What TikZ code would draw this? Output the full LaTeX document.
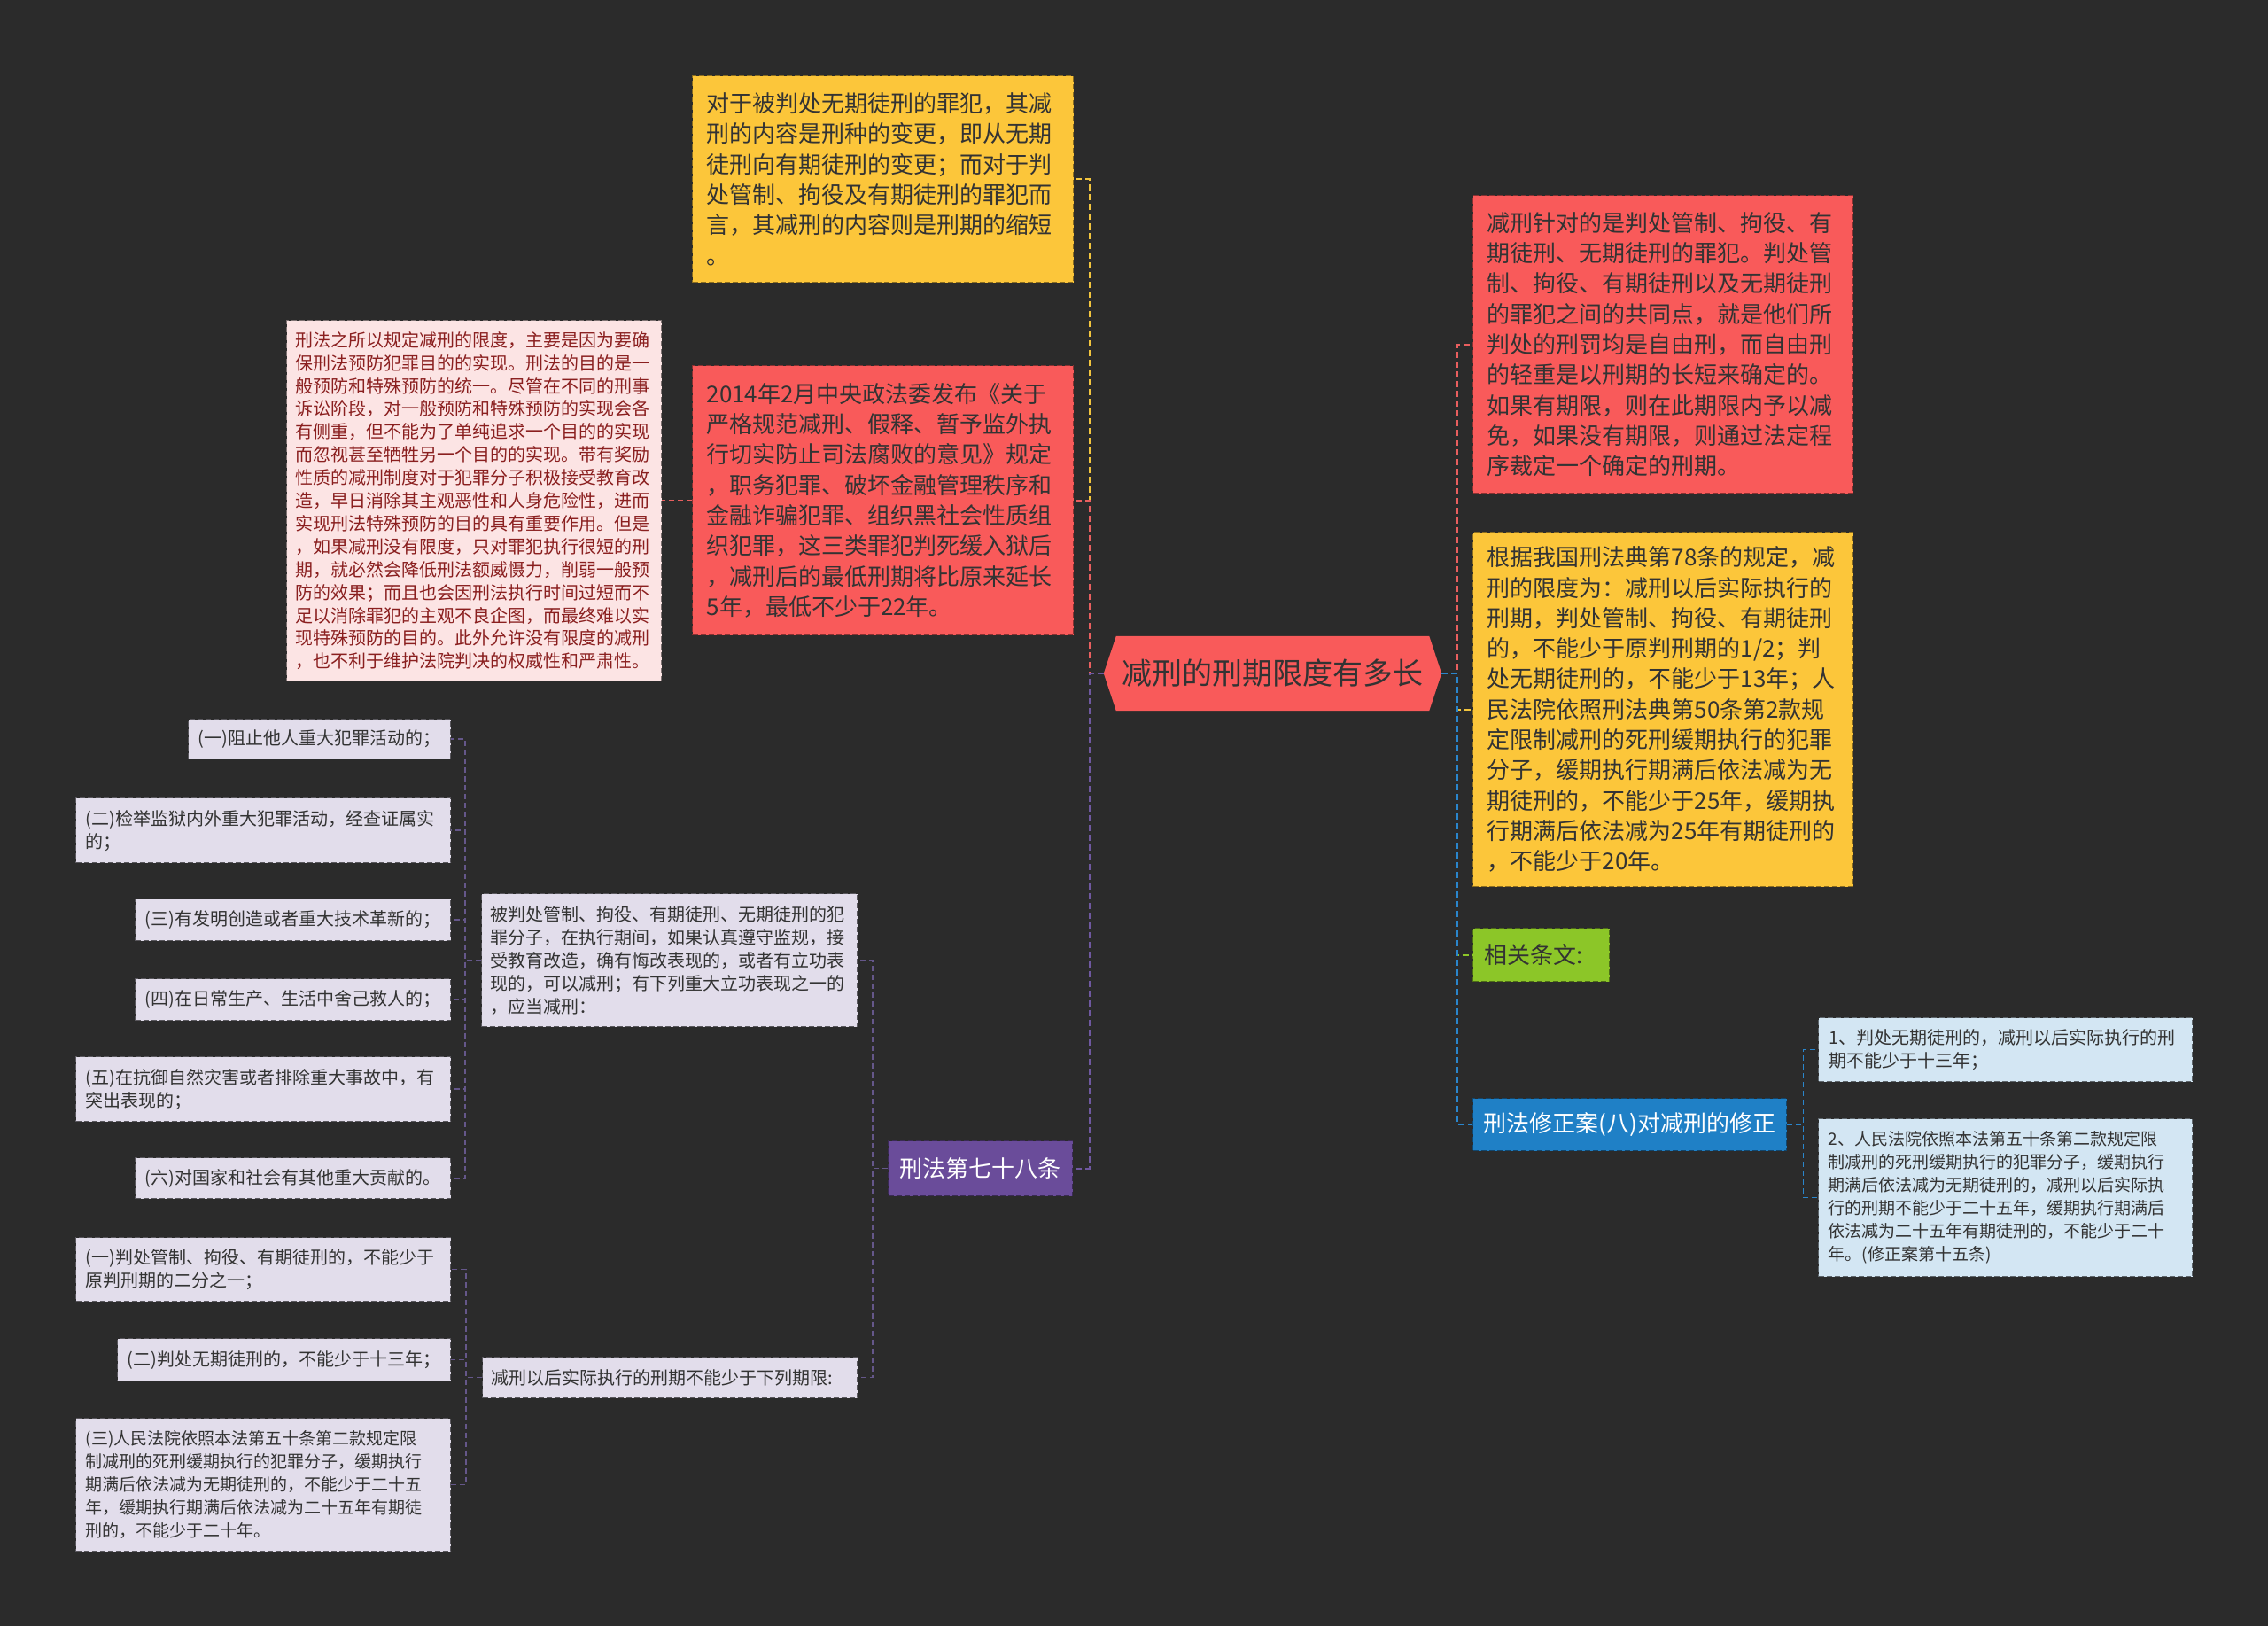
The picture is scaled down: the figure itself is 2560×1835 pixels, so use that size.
\documentclass[tikz,border=0pt]{standalone}
\usepackage{fontspec}
\setmainfont{Noto Sans CJK SC}
\usetikzlibrary{backgrounds}
\definecolor{bg}{HTML}{2B2B2B}
\definecolor{cyel}{HTML}{FCC63A}
\definecolor{cred}{HTML}{F95A5A}
\definecolor{cpink}{HTML}{FCE4E4}
\definecolor{clav}{HTML}{E2DDEB}
\definecolor{cpur}{HTML}{6A4C9A}
\definecolor{cgreen}{HTML}{8CC628}
\definecolor{cblue}{HTML}{1F80C6}
\definecolor{clblue}{HTML}{D3E6F3}
\definecolor{tdark}{HTML}{333333}
\definecolor{tred}{HTML}{8A1F1F}
\definecolor{lyel}{HTML}{F2C53E}
\definecolor{lred}{HTML}{E95F5F}
\definecolor{lpur}{HTML}{6F58A0}
\definecolor{lpur2}{HTML}{65578A}
\definecolor{lgreen}{HTML}{8CC628}
\definecolor{lblue}{HTML}{2A86CC}
\tikzset{
  bx/.style={rectangle, anchor=north west, inner ysep=0pt, align=left,
    dash pattern=on 6pt off 3pt, line width=1.3pt},
  big/.style={font=\fontsize{26pt}{34.3pt}\selectfont},
  sm/.style={font=\fontsize{20pt}{26pt}\selectfont},
  xs/.style={font=\fontsize{19pt}{26pt}\selectfont},
  ybox/.style={bx, fill=cyel, draw=cyel!55!black, text=tdark},
  rbox/.style={bx, fill=cred, draw=cred!55!black, text=tdark},
  pbox/.style={bx, fill=cpink, draw=cpink!50!black, text=tred},
  lbox/.style={bx, fill=clav, draw=clav!40!black, text=tdark},
  lbbox/.style={bx, fill=clblue, draw=clblue!45!black, text=tdark},
  link/.style={line width=2pt, dash pattern=on 7pt off 4pt},
  link2/.style={line width=1.5pt, dash pattern=on 6pt off 4pt},
}
\begin{document}
\begin{tikzpicture}[x=1pt,y=-1pt]
\begin{scope}[on background layer]
\fill[bg] (0,0) rectangle (2560,1835);
\end{scope}
\useasboundingbox (0,0) rectangle (2560,1835);

% center
\node[font=\fontsize{34pt}{40pt}\selectfont, text=tdark, minimum width=381pt,
  minimum height=84pt, inner sep=0pt] (c) at (1436.5,760) {减刑的刑期限度有多长};
\begin{scope}[on background layer]
\fill[cred] (c.west) -- ([xshift=14pt]c.north west) -- ([xshift=-14pt]c.north east)
  -- (c.east) -- ([xshift=-14pt]c.south east) -- ([xshift=14pt]c.south west) -- cycle;
\end{scope}

% left upper
\node[ybox, big, text width=398pt, inner xsep=16pt, minimum height=233pt] (ytop) at (781,85)
{对于被判处无期徒刑的罪犯，其减\\刑的内容是刑种的变更，即从无期\\徒刑向有期徒刑的变更；而对于判\\处管制、拘役及有期徒刑的罪犯而\\言，其减刑的内容则是刑期的缩短\\。};
\node[rbox, big, text width=398pt, inner xsep=16pt, minimum height=304pt] (rmid) at (781,412)
{2014年2月中央政法委发布《关于\\严格规范减刑、假释、暂予监外执\\行切实防止司法腐败的意见》规定\\，职务犯罪、破坏金融管理秩序和\\金融诈骗犯罪、组织黑社会性质组\\织犯罪，这三类罪犯判死缓入狱后\\，减刑后的最低刑期将比原来延长\\5年，最低不少于22年。};
\node[pbox, font=\fontsize{20pt}{25.9pt}\selectfont, text width=403pt, inner xsep=10pt, minimum height=407pt] (pink) at (323,361)
{刑法之所以规定减刑的限度，主要是因为要确\\保刑法预防犯罪目的的实现。刑法的目的是一\\般预防和特殊预防的统一。尽管在不同的刑事\\诉讼阶段，对一般预防和特殊预防的实现会各\\有侧重，但不能为了单纯追求一个目的的实现\\而忽视甚至牺牲另一个目的的实现。带有奖励\\性质的减刑制度对于犯罪分子积极接受教育改\\造，早日消除其主观恶性和人身危险性，进而\\实现刑法特殊预防的目的具有重要作用。但是\\，如果减刑没有限度，只对罪犯执行很短的刑\\期，就必然会降低刑法额威慑力，削弱一般预\\防的效果；而且也会因刑法执行时间过短而不\\足以消除罪犯的主观不良企图，而最终难以实\\现特殊预防的目的。此外允许没有限度的减刑\\，也不利于维护法院判决的权威性和严肃性。};

% left lower
\node[bx, big, fill=cpur, draw=cpur!55!black, text=white, align=center, text width=184pt,
  inner xsep=12pt, minimum height=62pt] (p78) at (1002,1287) {刑法第七十八条};
\node[lbox, sm, text width=404pt, inner xsep=10pt, minimum height=150pt] (bp) at (543,1008)
{被判处管制、拘役、有期徒刑、无期徒刑的犯\\罪分子，在执行期间，如果认真遵守监规，接\\受教育改造，确有悔改表现的，或者有立功表\\现的，可以减刑；有下列重大立功表现之一的\\，应当减刑：};
\node[lbox, sm, text width=403pt, inner xsep=10pt, minimum height=46pt] (jx) at (544,1531)
{减刑以后实际执行的刑期不能少于下列期限:};

\node[lbox, sm, text width=274pt, inner xsep=11pt, minimum height=45pt] (l1) at (212,811)
{(一)阻止他人重大犯罪活动的；};
\node[lbox, sm, text width=401pt, inner xsep=11pt, minimum height=73pt] (l2) at (85,900)
{(二)检举监狱内外重大犯罪活动，经查证属实\\的；};
\node[lbox, sm, text width=334pt, inner xsep=11pt, minimum height=47pt] (l3) at (152,1014)
{(三)有发明创造或者重大技术革新的；};
\node[lbox, sm, text width=334pt, inner xsep=11pt, minimum height=47pt] (l4) at (152,1104)
{(四)在日常生产、生活中舍己救人的；};
\node[lbox, sm, text width=401pt, inner xsep=11pt, minimum height=73pt] (l5) at (85,1192)
{(五)在抗御自然灾害或者排除重大事故中，有\\突出表现的；};
\node[lbox, sm, text width=334pt, inner xsep=11pt, minimum height=46pt] (l6) at (152,1306)
{(六)对国家和社会有其他重大贡献的。};

\node[lbox, sm, text width=401pt, inner xsep=11pt, minimum height=72pt] (m1) at (85,1396)
{(一)判处管制、拘役、有期徒刑的，不能少于\\原判刑期的二分之一；};
\node[lbox, sm, text width=354pt, inner xsep=11pt, minimum height=48pt] (m2) at (132,1510)
{(二)判处无期徒刑的，不能少于十三年；};
\node[lbox, xs, text width=401pt, inner xsep=11pt, minimum height=150pt] (m3) at (85,1600)
{(三)人民法院依照本法第五十条第二款规定限\\制减刑的死刑缓期执行的犯罪分子，缓期执行\\期满后依法减为无期徒刑的，不能少于二十五\\年，缓期执行期满后依法减为二十五年有期徒\\刑的，不能少于二十年。};

% right
\node[rbox, big, text width=397pt, inner xsep=16pt, minimum height=336pt] (rred) at (1662,220)
{减刑针对的是判处管制、拘役、有\\期徒刑、无期徒刑的罪犯。判处管\\制、拘役、有期徒刑以及无期徒刑\\的罪犯之间的共同点，就是他们所\\判处的刑罚均是自由刑，而自由刑\\的轻重是以刑期的长短来确定的。\\如果有期限，则在此期限内予以减\\免，如果没有期限，则通过法定程\\序裁定一个确定的刑期。};
\node[ybox, big, text width=397pt, inner xsep=16pt, minimum height=400pt] (ryel) at (1662,600)
{根据我国刑法典第78条的规定，减\\刑的限度为：减刑以后实际执行的\\刑期，判处管制、拘役、有期徒刑\\的，不能少于原判刑期的1/2；判\\处无期徒刑的，不能少于13年；人\\民法院依照刑法典第50条第2款规\\定限制减刑的死刑缓期执行的犯罪\\分子，缓期执行期满后依法减为无\\期徒刑的，不能少于25年，缓期执\\行期满后依法减为25年有期徒刑的\\，不能少于20年。};
\node[bx, big, fill=cgreen, draw=cgreen!55!black, text=tdark, text width=128pt,
  inner xsep=13pt, minimum height=60pt] (green) at (1662,1047) {相关条文:};
\node[bx, big, fill=cblue, draw=cblue!55!black, text=white, align=center, text width=330pt,
  inner xsep=12pt, minimum height=59pt] (blue) at (1662,1239) {刑法修正案(八)对减刑的修正};
\node[lbbox, sm, text width=398pt, inner xsep=12pt, minimum height=72pt] (lb1) at (2052,1148)
{1、判处无期徒刑的，减刑以后实际执行的刑\\期不能少于十三年；};
\node[lbbox, xs, text width=400pt, inner xsep=11pt, minimum height=178pt] (lb2) at (2052,1262)
{2、人民法院依照本法第五十条第二款规定限\\制减刑的死刑缓期执行的犯罪分子，缓期执行\\期满后依法减为无期徒刑的，减刑以后实际执\\行的刑期不能少于二十五年，缓期执行期满后\\依法减为二十五年有期徒刑的，不能少于二十\\年。(修正案第十五条)};

% connectors left
\draw[link, lyel] (c.west) -- ++(-16,0) |- (ytop.east);
\draw[link, lred] (c.west) -- ++(-16,0) |- (rmid.east);
\draw[link, lpur] (c.west) -- ++(-16,0) |- (p78.east);
\draw[link2, lred] (rmid.west) -- (pink.east |- rmid.west);
\draw[link2, lpur2] (p78.west) -- ++(-17,0) |- (bp.east);
\draw[link2, lpur2] (p78.west) -- ++(-17,0) |- (jx.east);
\foreach \n in {l1,l2,l3,l4,l5,l6}
  \draw[link2, lpur2] (bp.west) -- ++(-18,0) |- (\n.east);
\foreach \n in {m1,m2,m3}
  \draw[link2, lpur2] (jx.west) -- ++(-18,0) |- (\n.east);
% connectors right
\draw[link, lred] (c.east) -- ++(18,0) |- (rred.west);
\draw[link, lyel] (c.east) -- ++(18,0) |- (ryel.west);
\draw[link, lgreen] (c.east) -- ++(18,0) |- (green.west);
\draw[link, lblue] (c.east) -- ++(18,0) |- (blue.west);
\draw[link2, lblue] (blue.east) -- ++(18,0) |- (lb1.west);
\draw[link2, lblue] (blue.east) -- ++(18,0) |- (lb2.west);
\end{tikzpicture}
\end{document}
